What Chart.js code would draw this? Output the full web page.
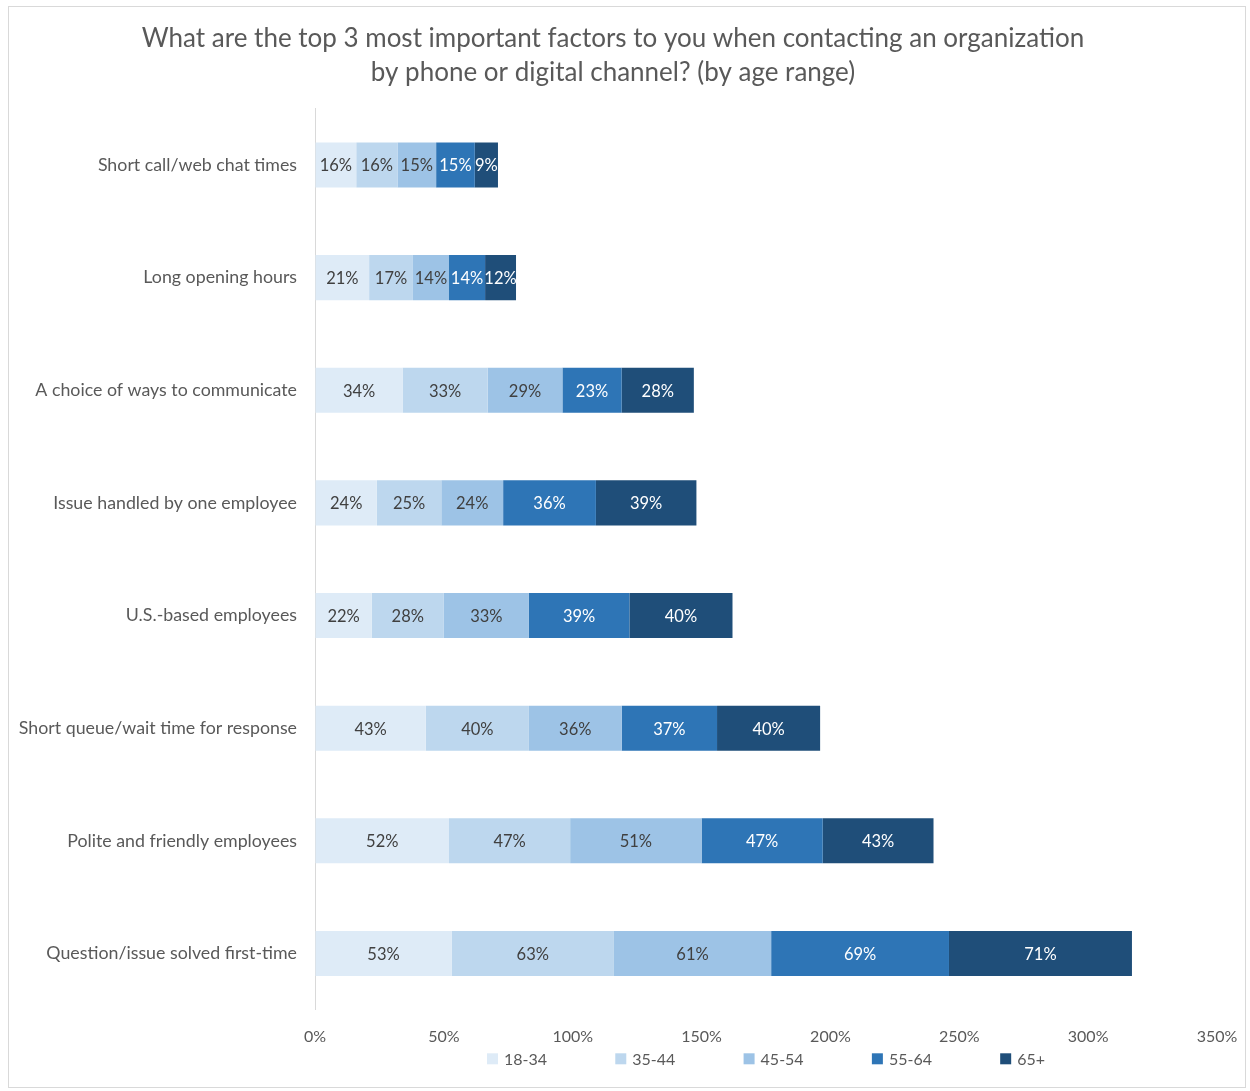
<!DOCTYPE html>
<html>
<head>
<meta charset="utf-8">
<script src="https://cdn.jsdelivr.net/npm/chart.js@4.4.1/dist/chart.umd.min.js"></script>
<style>
  body { margin: 0; background: #fff; }
  #box { position: absolute; left: 8px; top: 6px; width: 1236px; height: 1080px; border: 1px solid #d9d9d9; }
</style>
</head>
<body>
<div id="box"><canvas id="chart" width="1236" height="1080"></canvas></div>
<script>
    var factors = [
        "Short call/web chat times",
        "Long opening hours",
        "A choice of ways to communicate",
        "Issue handled by one employee",
        "U.S.-based employees",
        "Short queue/wait time for response",
        "Polite and friendly employees",
        "Question/issue solved first-time"
    ];
    var ageRanges = ["18-34", "35-44", "45-54", "55-64", "65+"];
    var age18_34 = [16, 21, 34, 24, 22, 43, 52, 53];
    var age35_44 = [16, 17, 33, 25, 28, 40, 47, 63];
    var age45_54 = [15, 14, 29, 24, 33, 36, 51, 61];
    var age55_64 = [15, 14, 23, 36, 39, 37, 47, 69];
    var age65up  = [9, 12, 28, 39, 40, 40, 43, 71];

    var colors = ["#deebf7", "#bdd7ee", "#9dc3e6", "#2e75b6", "#1f4e79"];
    var labelColors = ["#404040", "#404040", "#404040", "#ffffff", "#ffffff"];
    var series = [age18_34, age35_44, age45_54, age55_64, age65up];

    var FONT = "Lato, 'Open Sans', sans-serif";

    var datasets = [];
    for (var i = 0; i < series.length; i++) {
        datasets.push({
            label: ageRanges[i],
            data: series[i],
            backgroundColor: colors[i],
            borderWidth: 0,
            barPercentage: 0.4,
            categoryPercentage: 1
        });
    }

    // draws the % value in the middle of each segment
    var segLabels = {
        id: "segLabels",
        afterDatasetsDraw: function (chart) {
            var ctx = chart.ctx;
            ctx.save();
            ctx.font = "16.5px " + FONT;
            ctx.textAlign = "center";
            ctx.textBaseline = "middle";
            chart.data.datasets.forEach(function (ds, i) {
                var meta = chart.getDatasetMeta(i);
                ctx.fillStyle = labelColors[i];
                meta.data.forEach(function (bar, j) {
                    var cx = (bar.x + bar.base) / 2;
                    ctx.fillText(ds.data[j] + "%", cx, bar.y + 1);
                });
            });
            ctx.restore();
        }
    };

    // excel-style legend: equal width slots, centred under the plot area
    var slotLegend = {
        id: "slotLegend",
        afterDraw: function (chart) {
            var ctx = chart.ctx;
            var area = chart.chartArea;
            var slot = 128.3, box = 11, gap = 6;
            ctx.save();
            ctx.font = "16px " + FONT;
            ctx.textBaseline = "middle";
            var items = chart.data.datasets;
            var lastW = box + gap + ctx.measureText(items[items.length - 1].label).width;
            var total = slot * (items.length - 1) + lastW;
            var x = (area.left + area.right) / 2 - total / 2;
            var y = area.bottom + 49;
            items.forEach(function (ds, i) {
                var bx = x + i * slot;
                ctx.fillStyle = ds.backgroundColor;
                ctx.fillRect(bx, y - box / 2, box, box);
                ctx.fillStyle = "#595959";
                ctx.fillText(ds.label, bx + box + gap, y + 1);
            });
            ctx.restore();
        }
    };

    new Chart(document.getElementById("chart"), {
        type: "bar",
        data: { labels: factors, datasets: datasets },
        plugins: [segLabels, slotLegend],
        options: {
            indexAxis: "y",
            responsive: false,
            animation: false,
            layout: { padding: { left: 0, right: 28, top: 2, bottom: 38 } },
            scales: {
                x: {
                    stacked: true,
                    min: 0,
                    max: 350,
                    ticks: {
                        stepSize: 50,
                        padding: 3,
                        color: "#595959",
                        font: { family: FONT, size: 16 },
                        callback: function (v) { return v + "%"; }
                    },
                    // invisible tick marks just to push the labels down
                    grid: { display: true, color: "transparent", drawOnChartArea: false, drawTicks: true, tickLength: 14 },
                    border: { display: false }
                },
                y: {
                    stacked: true,
                    afterFit: function (s) { s.width = 306; },
                    ticks: {
                        padding: 18,
                        color: "#595959",
                        font: { family: FONT, size: 17.8 }
                    },
                    grid: { display: false, drawTicks: false },
                    border: { color: "#d9d9d9", width: 1 }
                }
            },
            plugins: {
                title: {
                    display: true,
                    text: ["What are the top 3 most important factors to you when contacting an organization",
                           "by phone or digital channel? (by age range)"],
                    color: "#595959",
                    font: { family: FONT, size: 26, weight: "normal", lineHeight: 1.32 },
                    padding: { top: 12, bottom: 19 }
                },
                legend: { display: false },
                tooltip: { enabled: false }
            }
        }
    });
</script>
</body>
</html>
